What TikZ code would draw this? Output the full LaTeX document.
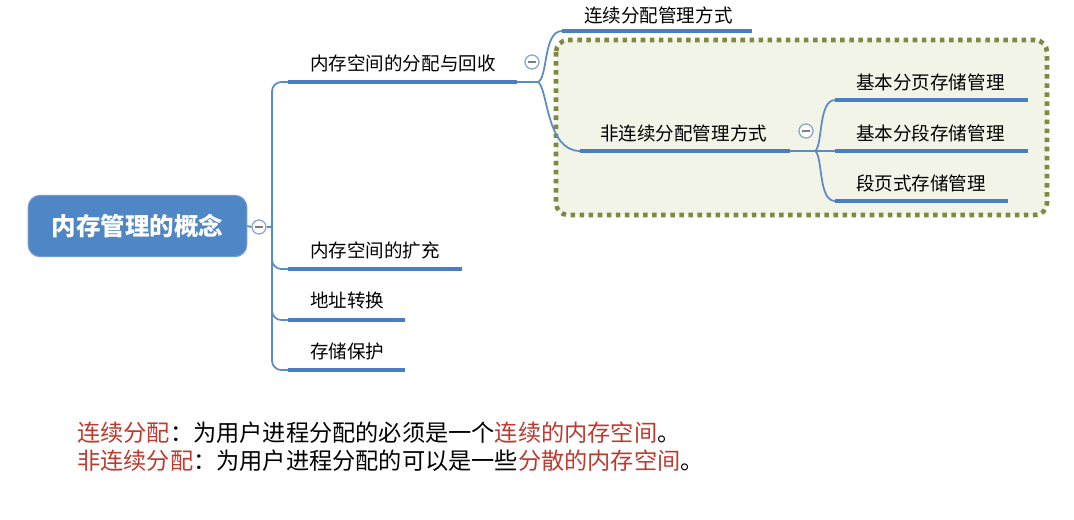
\documentclass[tikz,border=0pt]{standalone}
\usepackage{fontspec}
\setmainfont{Noto Sans CJK SC}
\definecolor{lineblue}{HTML}{5B8BC7}
\definecolor{barblue}{HTML}{4A7EC2}
\definecolor{rootblue}{HTML}{4F86C6}
\definecolor{boxfill}{HTML}{F1F4E7}
\definecolor{boxline}{HTML}{7D8A40}
\definecolor{redtxt}{HTML}{BE3A2F}
\definecolor{circline}{HTML}{8BA7CD}
\definecolor{minusgray}{HTML}{7A7F88}
\begin{document}
\begin{tikzpicture}[x=0.75pt,y=-0.75pt,
  lbl/.style={anchor=west,inner sep=0,font=\fontsize{13.9pt}{16pt}\selectfont},
  note/.style={anchor=west,inner sep=0,font=\fontsize{17.4pt}{20pt}\selectfont},
  bar/.style={draw=barblue,line width=3pt},
  conn/.style={draw=lineblue,line width=1.3pt},
  tog/.style={circle,draw=circline,fill=white,line width=1pt,minimum size=10.5pt,inner sep=0,
    path picture={\draw[minusgray,line width=1.1pt] ([xshift=-3pt]path picture bounding box.center) -- ([xshift=3pt]path picture bounding box.center);}},
  rootbox/.style={rounded corners=9pt,fill=rootblue,draw=rootblue!80!white,line width=0.8pt,
    minimum width=164pt,minimum height=46pt,inner sep=0,text=white,
    font=\fontsize{18.4pt}{20pt}\selectfont\bfseries},
  groupbox/.style={draw=boxline,fill=boxfill,line width=3.4pt,dash pattern=on 3.4pt off 3.4pt,rounded corners=9pt}
]
\useasboundingbox (0,0) rectangle (1074,519);
\fill[white] (0,0) rectangle (1074,519);

% dotted group
\draw[groupbox] (556,40) rectangle (1047,215);

% root
\node[rootbox] (root) at (137.5,226) {内存管理的概念};
\node[tog] (t0) at (259,227) {};

% level-1 end coordinates
\coordinate (a1L) at (288,82);  \coordinate (a1R) at (517,82);
\coordinate (a2L) at (288,269); \coordinate (a2R) at (462,269);
\coordinate (a3L) at (288,320); \coordinate (a3R) at (405,320);
\coordinate (a4L) at (288,370); \coordinate (a4R) at (405,370);
\coordinate (trunk) at (272,227);

% trunk connectors
\draw[conn] (root.east) -- (t0.west);
\draw[conn] (t0.east) -- (trunk);
\draw[conn,rounded corners=7pt] (a1L) -| (272,230) |- (a4L);
\draw[conn,rounded corners=7pt] (272,240) |- (a2L);
\draw[conn,rounded corners=7pt] (272,290) |- (a3L);

% level-1 bars and labels
\draw[bar] (a1L) -- (a1R);
\draw[bar] (a2L) -- (a2R);
\draw[bar] (a3L) -- (a3R);
\draw[bar] (a4L) -- (a4R);
\node[lbl] (l1) at (310,63) {内存空间的分配与回收};
\node[lbl] (l2) at (310,250) {内存空间的扩充};
\node[lbl] (l3) at (310,300) {地址转换};
\node[lbl] (l4) at (310,351) {存储保护};

% level-2
\coordinate (j1) at (538,82);
\node[tog] (t1) at (532,62) {};
\coordinate (b1L) at (562,31);  \coordinate (b1R) at (752,31);
\coordinate (b2L) at (580,151); \coordinate (b2R) at (790,151);
\draw[conn] (a1R) -- (j1);
\draw[conn] (j1) .. controls (548,78) and (543,31) .. (b1L);
\draw[conn] (j1) .. controls (548,88) and (546,151) .. (b2L);
\draw[bar] (b1L) -- (b1R);
\draw[bar] (b2L) -- (b2R);
\node[lbl] (m1) at (584,15) {连续分配管理方式};
\node[lbl] (m2) at (600,133) {非连续分配管理方式};

% level-3
\node[tog] (t2) at (806,131) {};
\coordinate (j2) at (815,151);
\coordinate (c1L) at (835,100); \coordinate (c1R) at (1028,100);
\coordinate (c2L) at (835,151); \coordinate (c2R) at (1028,151);
\coordinate (c3L) at (835,201); \coordinate (c3R) at (1008,201);
\draw[conn] (b2R) -- (c2L);
\draw[conn] (j2) .. controls (823,146) and (818,100) .. (c1L);
\draw[conn] (j2) .. controls (823,156) and (818,201) .. (c3L);
\draw[bar] (c1L) -- (c1R);
\draw[bar] (c2L) -- (c2R);
\draw[bar] (c3L) -- (c3R);
\node[lbl] (k1) at (856,82) {基本分页存储管理};
\node[lbl] (k2) at (856,133) {基本分段存储管理};
\node[lbl] (k3) at (856,183) {段页式存储管理};

% notes
\node[note] (n1) at (77,433) {\textcolor{redtxt}{连续分配}：为用户进程分配的必须是一个\textcolor{redtxt}{连续的内存空间}。};
\node[note] (n2) at (77,461) {\textcolor{redtxt}{非连续分配}：为用户进程分配的可以是一些\textcolor{redtxt}{分散的内存空间}。};
\end{tikzpicture}
\end{document}
